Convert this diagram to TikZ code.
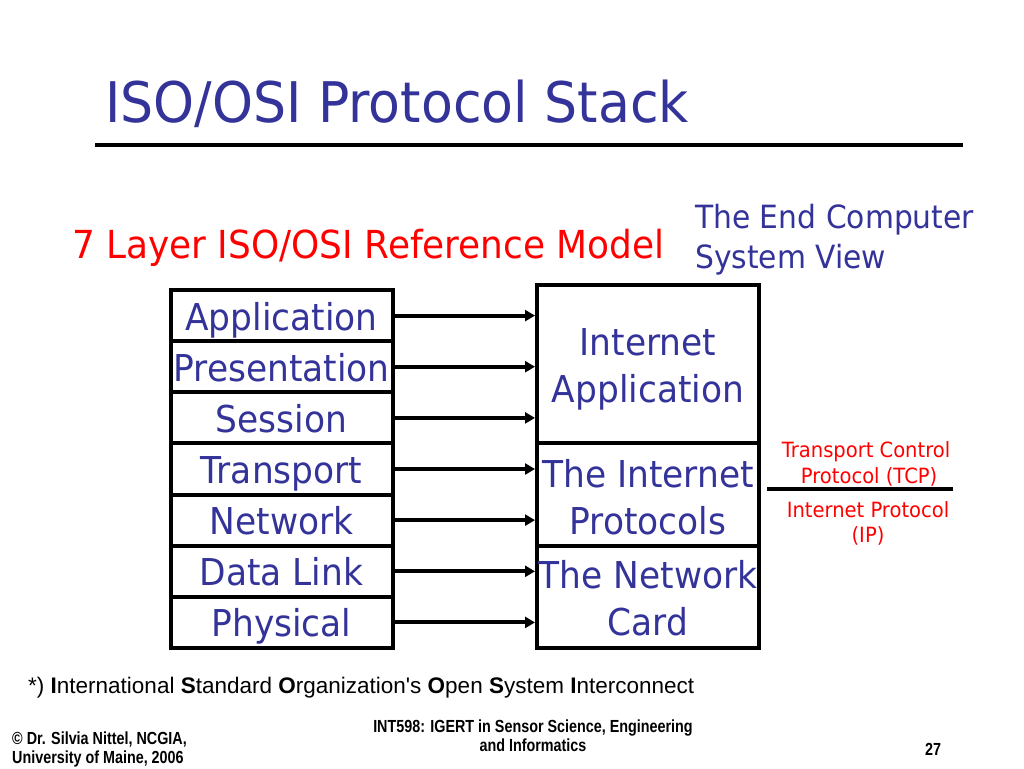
\documentclass[tikz,border=0pt]{standalone}
\usepackage{fontspec}
\usetikzlibrary{arrows.meta}
\newfontfamily\tah{DejaVu Sans}[FakeStretch=0.93]
\newfontfamily\arial{Liberation Sans}
\newfontfamily\arialn{Liberation Sans}[FakeStretch=0.82]
\definecolor{pptblue}{HTML}{333399}
\definecolor{pptred}{HTML}{FF0000}
\tikzset{
  layerbox/.style={draw=black, line width=4pt, rectangle, inner sep=0pt,
    minimum width=222pt, minimum height=51.14pt, text=pptblue,
    font=\tah\fontsize{37}{44}\selectfont, text height=32pt, text depth=3.2pt},
  sysbox/.style={draw=black, line width=4pt, rectangle, inner sep=0pt,
    minimum width=222pt, text=pptblue, align=center,
    font=\tah\fontsize{37}{47}\selectfont},
  layerarrow/.style={line width=4pt, -{Triangle[length=10pt,width=11pt]}},
  redtext/.style={text=pptred, inner sep=0pt},
  bluetext/.style={text=pptblue, inner sep=0pt},
  foot/.style={inner sep=0pt, text=black, font=\arialn\bfseries\fontsize{17.5}{19}\selectfont}
}
\begin{document}
\begin{tikzpicture}[x=1pt,y=-1pt]
\useasboundingbox (0,0) rectangle (1024,768);
\fill[white] (0,0) rectangle (1024,768);

% title
\node[bluetext, anchor=base west, font=\tah\fontsize{56}{60}\selectfont] (title) at (105,122) {ISO/OSI Protocol Stack};
\draw[line width=4pt] (95,145) -- (963,145);

% headings
\node[redtext, anchor=base west, font=\tah\fontsize{38.6}{44}\selectfont] (osihead) at (72,258) {7 Layer ISO/OSI Reference Model};
\node[bluetext, anchor=base west, font=\tah\fontsize{32}{40}\selectfont, align=left] (endhead) at (695,268) {The End Computer\\System View};

% left stack
\node[layerbox] (app)  at (281.5,315.6) {Application};
\node[layerbox] (pres) at (281.5,366.7) {Presentation};
\node[layerbox] (sess) at (281.5,417.9) {Session};
\node[layerbox] (trans) at (281.5,469.0) {Transport};
\node[layerbox] (net)  at (281.5,520.1) {Network};
\node[layerbox] (dl)   at (281.5,571.3) {Data Link};
\node[layerbox] (phys) at (281.5,622.4) {Physical};

% right stack
\node[sysbox, minimum height=158pt] (inetapp) at (648,364) {\rule{0pt}{37pt}Internet\\Application};
\node[sysbox, minimum height=103pt] (inetproto) at (648,494.5) {\rule{0pt}{34pt}The Internet\\Protocols};
\node[sysbox, minimum height=102pt] (netcard) at (648,597) {\rule{0pt}{30pt}The Network\\Card};

% arrows
\draw[layerarrow] (app.east)   -- (app.east -| inetapp.west);
\draw[layerarrow] (pres.east)  -- (pres.east -| inetapp.west);
\draw[layerarrow] (sess.east)  -- (sess.east -| inetapp.west);
\draw[layerarrow] (trans.east) -- (trans.east -| inetproto.west);
\draw[layerarrow] (net.east)   -- (net.east -| inetproto.west);
\draw[layerarrow] (dl.east)    -- (dl.east -| netcard.west);
\draw[layerarrow] (phys.east)  -- (phys.east -| netcard.west);

% TCP / IP
\node[redtext, anchor=base, align=center, font=\tah\fontsize{21}{26}\selectfont] (tcp) at (866,483) {Transport Control\\\ Protocol (TCP)};
\draw[line width=4pt] (767,489) -- (953,489);
\node[redtext, anchor=base, align=center, font=\tah\fontsize{21}{25}\selectfont] (ip) at (868,542) {Internet Protocol\\(IP)};

% footnote
\node[inner sep=0pt, anchor=base west, font=\arial\fontsize{22.5}{26}\selectfont] (fn) at (28,693)
  {*) \textbf{I}nternational \textbf{S}tandard \textbf{O}rganization's \textbf{O}pen \textbf{S}ystem \textbf{I}nterconnect};

% footer
\node[foot, anchor=base west, align=left] (copy) at (12,763) {© Dr. Silvia Nittel, NCGIA,\\University of Maine, 2006};
\node[foot, anchor=base, align=center] (course) at (533,751) {INT598: IGERT in Sensor Science, Engineering\\and Informatics};
\node[foot, anchor=base west] (page) at (925,755) {27};
\end{tikzpicture}
\end{document}
